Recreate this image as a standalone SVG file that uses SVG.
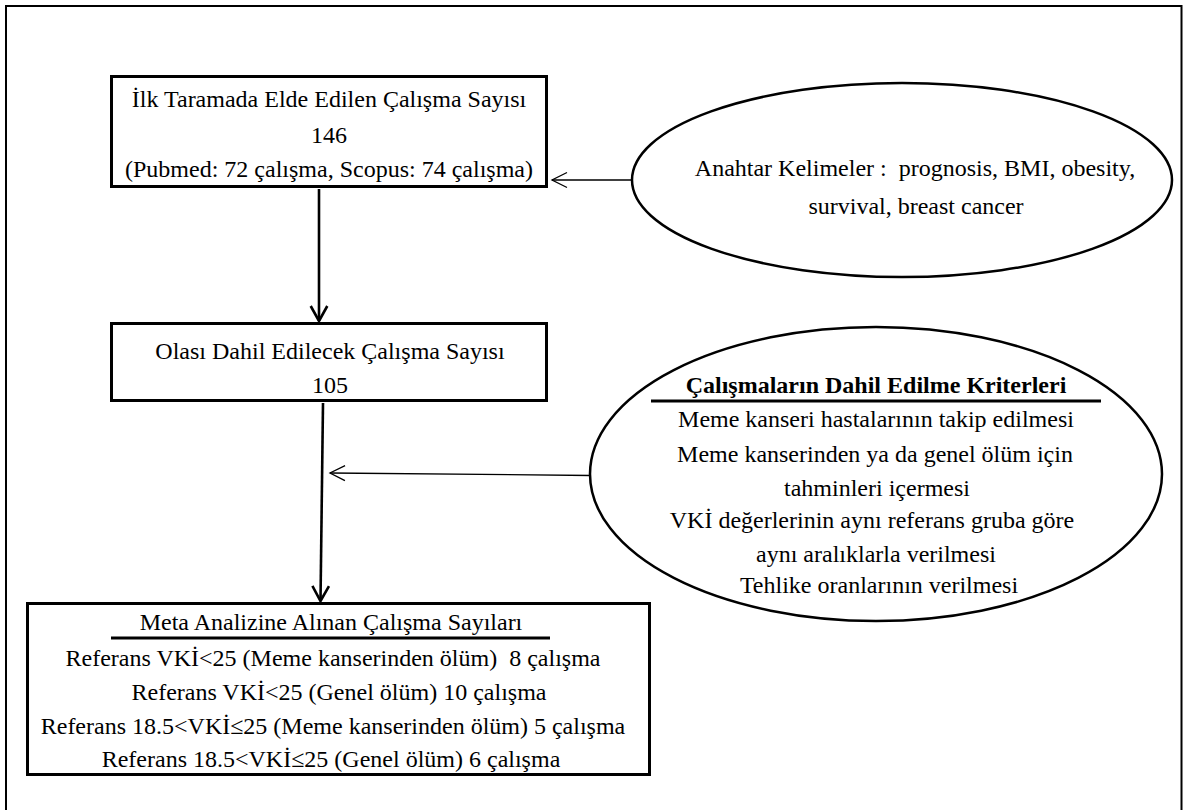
<svg xmlns="http://www.w3.org/2000/svg" width="1188" height="810" viewBox="0 0 1188 810">
<defs>
<style>
text{font-family:"Liberation Serif","Times New Roman",serif;font-size:24px;fill:#000;text-anchor:middle}
.b{font-weight:bold}
.box{fill:#fff;stroke:#000;stroke-width:3}
.ell{fill:#fff;stroke:#000;stroke-width:2.5}
.thick{fill:none;stroke:#000;stroke-width:2.6}
.thin{fill:none;stroke:#000;stroke-width:1.3}
.rule{stroke:#000;stroke-width:3}
</style>
<marker id="ahThick" markerUnits="userSpaceOnUse" viewBox="-18 -11 20 22" markerWidth="20" markerHeight="22" refX="0" refY="0" orient="auto" overflow="visible">
<path d="M-15,-8.3 L0,0 L-15,8.3" fill="none" stroke="#000" stroke-width="2.6" stroke-linejoin="miter"/>
</marker>
<marker id="ahThin" markerUnits="userSpaceOnUse" viewBox="-18 -11 20 22" markerWidth="20" markerHeight="22" refX="0" refY="0" orient="auto" overflow="visible">
<path d="M-15,-7.5 L0,0 L-15,7.5" fill="none" stroke="#000" stroke-width="1.3"/>
</marker>
</defs>
<rect x="0" y="0" width="1188" height="810" fill="#fff"/>
<rect id="frame" x="6" y="6" width="1175.5" height="830" fill="none" stroke="#000" stroke-width="2"/>

<g id="connectors">
<line class="thick" x1="319" y1="189" x2="319" y2="321" marker-end="url(#ahThick)"/>
<line class="thick" x1="323" y1="403" x2="320.5" y2="601" marker-end="url(#ahThick)"/>
<line class="thin" x1="632" y1="180" x2="552" y2="180" marker-end="url(#ahThin)"/>
<line class="thin" x1="591" y1="475.5" x2="330" y2="473" marker-end="url(#ahThin)"/>
</g>

<g id="node-ilk-tarama">
<rect class="box" x="111.5" y="76.5" width="435" height="110"/>
<text x="329" y="107">İlk Taramada Elde Edilen Çalışma Sayısı</text>
<text x="329" y="143">146</text>
<text x="329" y="177">(Pubmed: 72 çalışma, Scopus: 74 çalışma)</text>
</g>

<g id="node-anahtar">
<ellipse class="ell" cx="902" cy="180" rx="270" ry="97"/>
<text x="915" y="176" xml:space="preserve">Anahtar Kelimeler :  prognosis, BMI, obesity,</text>
<text x="916" y="214">survival, breast cancer</text>
</g>

<g id="node-olasi">
<rect class="box" x="111.5" y="323.5" width="435" height="77"/>
<text x="330" y="359">Olası Dahil Edilecek Çalışma Sayısı</text>
<text x="330" y="393">105</text>
</g>

<g id="node-kriterler">
<ellipse class="ell" cx="876" cy="474" rx="286" ry="147"/>
<text class="b" x="876" y="393">Çalışmaların Dahil Edilme Kriterleri</text>
<line class="rule" x1="651" y1="401" x2="1101" y2="401"/>
<text x="876" y="427">Meme kanseri hastalarının takip edilmesi</text>
<text x="875" y="462">Meme kanserinden ya da genel ölüm için</text>
<text x="877" y="496">tahminleri içermesi</text>
<text x="872" y="528">VKİ değerlerinin aynı referans gruba göre</text>
<text x="876" y="562">aynı aralıklarla verilmesi</text>
<text x="879" y="593">Tehlike oranlarının verilmesi</text>
</g>

<g id="node-meta">
<rect class="box" x="27.5" y="603.5" width="622" height="171"/>
<text x="331" y="630">Meta Analizine Alınan Çalışma Sayıları</text>
<line class="rule" x1="111" y1="638" x2="550" y2="638"/>
<text x="333" y="666" xml:space="preserve">Referans VKİ&lt;25 (Meme kanserinden ölüm)  8 çalışma</text>
<text x="339" y="700">Referans VKİ&lt;25 (Genel ölüm) 10 çalışma</text>
<text x="333" y="734">Referans 18.5&lt;VKİ≤25 (Meme kanserinden ölüm) 5 çalışma</text>
<text x="331" y="767">Referans 18.5&lt;VKİ≤25 (Genel ölüm) 6 çalışma</text>
</g>
</svg>
